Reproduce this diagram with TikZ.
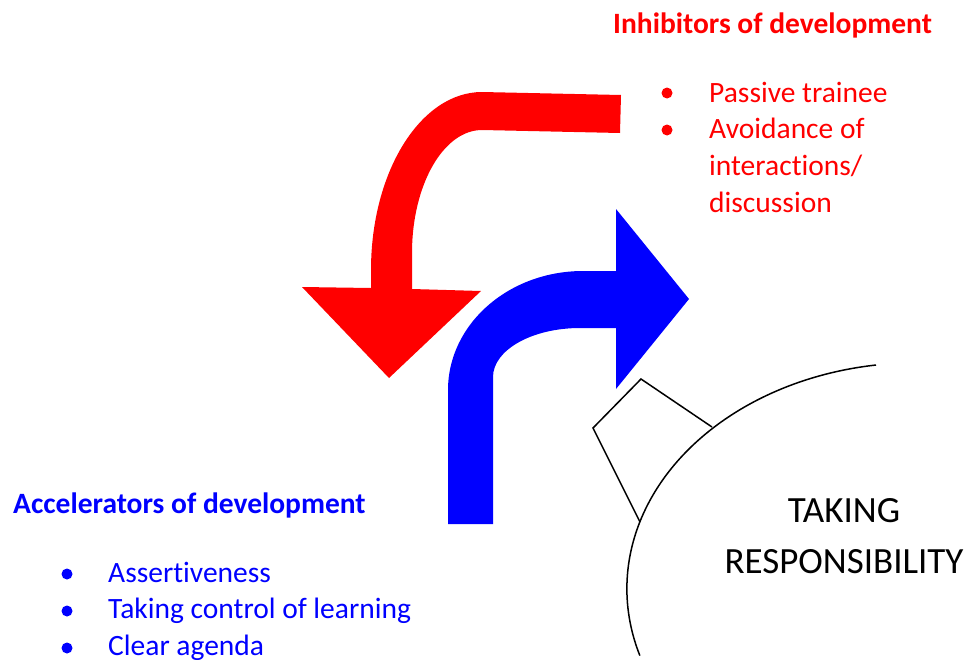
\documentclass[tikz,border=0pt]{standalone}
\usepackage{fontspec}
\setmainfont{Carlito}[Ligatures={NoCommon,NoRequired,NoContextual}]
\begin{document}
\begin{tikzpicture}[x=1pt,y=-1pt,
  txt/.style={anchor=base west, inner sep=0pt, font=\fontsize{29.5}{35}\selectfont},
  head/.style={anchor=base west, inner sep=0pt, font=\fontsize{29.5}{35}\selectfont\bfseries},
  bul/.style={circle, fill=#1, inner sep=0pt, minimum size=11pt},
  big/.style={anchor=base, inner sep=0pt, font=\fontsize{37}{44}\selectfont},
  outline/.style={draw=black, line width=1.5pt, line join=miter}
]
\useasboundingbox (0,0) rectangle (968,659);

% red bent arrow (inhibitors)
\fill[red] (621,95) -- (482,92) .. controls (420.7,92) and (371,171.7) .. (371,270)
  -- (371,288) -- (302,287) -- (389,378) -- (481,291) -- (412,289) -- (412,253)
  .. controls (412,185) and (443.4,130) .. (482,130) -- (620,133) -- cycle;

% blue bent arrow (accelerators)
\fill[blue] (448,524) -- (448,390) .. controls (448,324.3) and (508.5,271) .. (583,271)
  -- (616,271) -- (616,209) -- (689,299) -- (616,389) -- (616,328) -- (580,328)
  .. controls (532,328) and (493,350) .. (493,377) -- (493,524) -- cycle;

% kite and arc
\coordinate (kr) at (712,427);
\coordinate (kt) at (641,379);
\coordinate (kl) at (593,428);
\coordinate (kb) at (640,522);
\coordinate (as) at (876,365);
\draw[outline] (kr) -- (kt) -- (kl) -- (kb);
\draw[outline] (as) arc[start angle=98.1, end angle=197.2, x radius=290pt, y radius=226pt];

\node[big] (t1) at (844,522) {TAKING};
\node[big] (t2) at (844,573) {RESPONSIBILITY};

% inhibitors
\node[head, text=red] (ih) at (613,33) {Inhibitors of development};
\node[bul=red] (rb1) at (667,93) {};
\node[txt, text=red] (r1) at (709,102) {Passive trainee};
\node[bul=red] (rb2) at (667,130) {};
\node[txt, text=red] (r2) at (709,138) {Avoidance of};
\node[txt, text=red] (r3) at (709,175) {interactions/};
\node[txt, text=red] (r4) at (709,212) {discussion};

% accelerators
\node[head, text=blue] (ah) at (13,513) {Accelerators of development};
\node[bul=blue] (bb1) at (67,574) {};
\node[txt, text=blue] (a1) at (108,582) {Assertiveness};
\node[bul=blue] (bb2) at (67,611) {};
\node[txt, text=blue] (a2) at (108,618) {Taking control of learning};
\node[bul=blue] (bb3) at (67,648) {};
\node[txt, text=blue] (a3) at (108,655) {Clear agenda};
\end{tikzpicture}
\end{document}
